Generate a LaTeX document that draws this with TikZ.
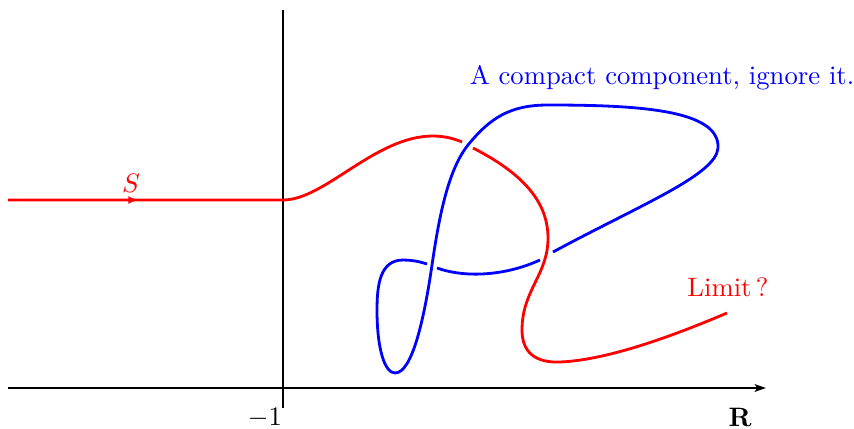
\documentclass[tikz,border=0pt]{standalone}
\usetikzlibrary{arrows.meta}
\begin{document}
\begin{tikzpicture}[x=0.375pt,y=-0.375pt,
  curve/.style={line width=1.05pt,line join=round},
  axis/.style={line width=1.1pt,black},
  lbl/.style={inner sep=0pt}]
\useasboundingbox (0,0) rectangle (854,428);
% axes
\coordinate (xl) at (8,388);
\coordinate (xr) at (766,388);
\coordinate (yt) at (283,10);
\coordinate (yb) at (283,408);
\draw[axis,-{Stealth[length=4.2pt,width=2.8pt,inset=0.9pt]}] (xl) -- (xr);
\draw[axis] (yb) -- (yt);
\node[lbl] (m1) at (265,418) {$-1$};
\node[lbl] (R) at (740,417) {$\mathbf{R}$};
% red curve S
\coordinate (r0) at (8,200);
\coordinate (ra) at (138,200);
\coordinate (r1) at (283,200);
\coordinate (r2) at (433,136);
\coordinate (r3) at (462,142);
\coordinate (r4) at (473,148);
\coordinate (r5) at (548,238);
\coordinate (r6) at (522,330);
\coordinate (r7) at (560,362);
\coordinate (r8) at (727,313);
\draw[curve,red] (r0) -- (r1) .. controls (325,200) and (375,136) .. (r2)
  .. controls (445,136) and (455,139) .. (r3);
\draw[curve,red,-{Latex[length=3.6pt,width=3pt]}] (r0) -- (ra);
\draw[curve,red] (r4) .. controls (520,172) and (548,200) .. (r5)
  .. controls (548,275) and (522,290) .. (r6)
  .. controls (522,352) and (535,363) .. (r7)
  .. controls (610,360) and (680,333) .. (r8);
\node[lbl,red] (S) at (131,183) {$S$};
\node[lbl,red] (lim) at (728,287) {Limit\,?};
% blue compact component
\coordinate (b0) at (427,264);
\coordinate (b1) at (403,260);
\coordinate (b2) at (377,310);
\coordinate (b3) at (395,373);
\coordinate (b4) at (432,265);
\coordinate (b5) at (468,145);
\coordinate (b6) at (548,105);
\coordinate (b7) at (718,148);
\coordinate (b8) at (553,252);
\coordinate (c0) at (540,260);
\coordinate (c1) at (437,268);
\draw[curve,blue] (b0) .. controls (418,261) and (410,260) .. (b1)
  .. controls (380,260) and (377,285) .. (b2)
  .. controls (377,350) and (385,373) .. (b3)
  .. controls (412,373) and (424,320) .. (b4)
  .. controls (439,217) and (448,170) .. (b5)
  .. controls (490,118) and (510,105) .. (b6)
  .. controls (640,105) and (720,110) .. (b7)
  .. controls (716,175) and (640,205) .. (b8);
\draw[curve,blue] (c0) .. controls (505,276) and (465,278) .. (c1);
\node[lbl,blue] (cc) at (662,78) {A compact component, ignore it.};
\end{tikzpicture}
\end{document}
